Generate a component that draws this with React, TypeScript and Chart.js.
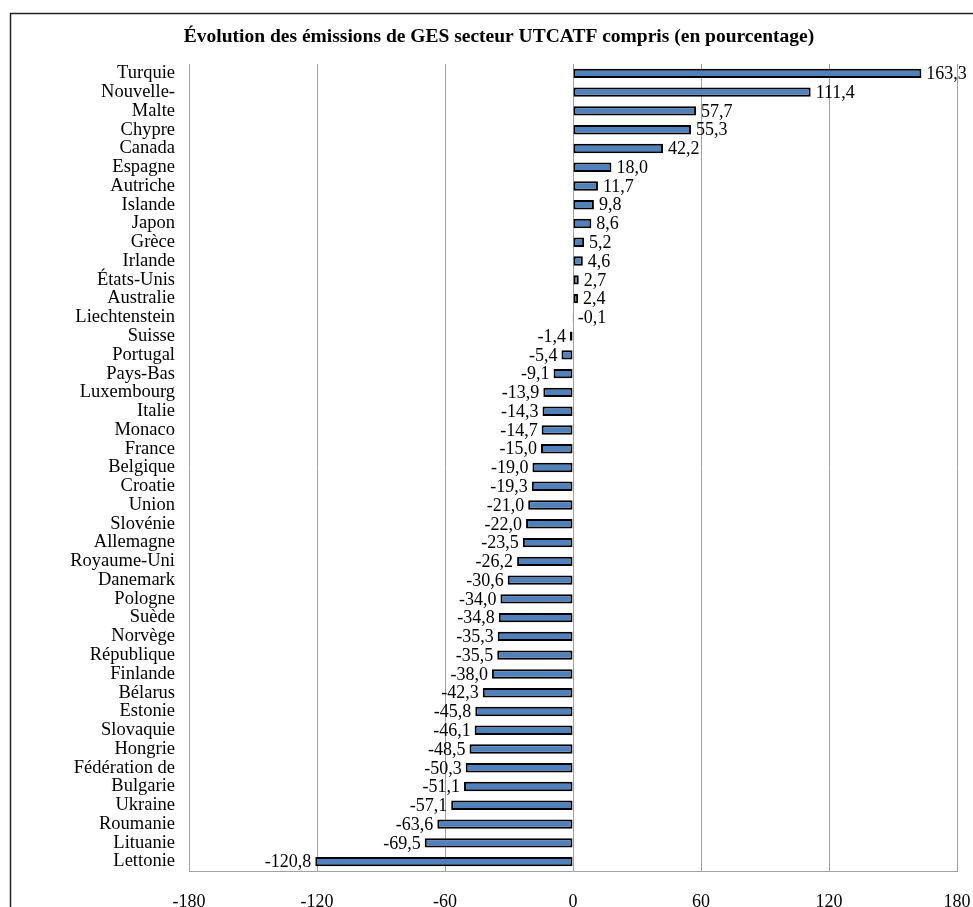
import React, { useEffect, useRef } from "react";
import { Chart, registerables } from "chart.js";

Chart.register(...registerables);

const TITLE = "Évolution des émissions de GES secteur UTCATF compris (en pourcentage)";

const countries = [
  "Turquie", "Nouvelle-", "Malte", "Chypre", "Canada", "Espagne", "Autriche", "Islande",
  "Japon", "Grèce", "Irlande", "États-Unis", "Australie", "Liechtenstein", "Suisse",
  "Portugal", "Pays-Bas", "Luxembourg", "Italie", "Monaco", "France", "Belgique", "Croatie",
  "Union", "Slovénie", "Allemagne", "Royaume-Uni", "Danemark", "Pologne", "Suède", "Norvège",
  "République", "Finlande", "Bélarus", "Estonie", "Slovaquie", "Hongrie", "Fédération de",
  "Bulgarie", "Ukraine", "Roumanie", "Lituanie", "Lettonie",
];

const changes = [
  163.3, 111.4, 57.7, 55.3, 42.2, 18.0, 11.7, 9.8, 8.6, 5.2, 4.6, 2.7, 2.4, -0.1, -1.4,
  -5.4, -9.1, -13.9, -14.3, -14.7, -15.0, -19.0, -19.3, -21.0, -22.0, -23.5, -26.2, -30.6,
  -34.0, -34.8, -35.3, -35.5, -38.0, -42.3, -45.8, -46.1, -48.5, -50.3, -51.1, -57.1,
  -63.6, -69.5, -120.8,
];

const X_MIN = -180;
const X_MAX = 180;
const X_STEP = 60;

const FONT = "'Liberation Serif', 'Times New Roman', serif";

const fmt = (v: number) => v.toFixed(1).replace(".", ",");

const decorPlugin = {
  id: "decor",
  beforeDraw(chart: any) {
    const ctx = chart.ctx;
    ctx.save();
    ctx.fillStyle = "#ffffff";
    ctx.fillRect(0, 0, chart.width, chart.height);
    ctx.restore();
  },
  afterDraw(chart: any) {
    const ctx = chart.ctx;
    ctx.save();
    // frame
    ctx.strokeStyle = "#222222";
    ctx.lineWidth = 1.5;
    ctx.strokeRect(10.5, 13.5, 1200, 1200);
    // title
    ctx.fillStyle = "#000000";
    ctx.font = `bold 19.5px ${FONT}`;
    ctx.textAlign = "center";
    ctx.textBaseline = "alphabetic";
    ctx.fillText(TITLE, 499, 42);
    // data labels
    const meta = chart.getDatasetMeta(0);
    ctx.font = `18px ${FONT}`;
    ctx.textBaseline = "middle";
    meta.data.forEach((bar: any, i: number) => {
      const v = changes[i];
      const text = fmt(v);
      if (v > -1) {
        ctx.textAlign = "left";
        ctx.fillText(text, Math.max(bar.x, bar.base) + 5, bar.y + 1);
      } else {
        ctx.textAlign = "right";
        ctx.fillText(text, bar.x - 4, bar.y + 1);
      }
    });
    ctx.restore();
  },
};

export default function App() {
  const ref = useRef<HTMLCanvasElement | null>(null);

  useEffect(() => {
    if (!ref.current) return;
    const chart = new Chart(ref.current, {
      type: "bar",
      data: {
        labels: countries,
        datasets: [
          {
            data: changes,
            backgroundColor: "#4F81BD",
            borderColor: "#000000",
            borderWidth: 2,
            borderSkipped: false,
            categoryPercentage: 1,
            barPercentage: 0.5,
          },
        ],
      },
      options: {
        indexAxis: "y",
        animation: false,
        responsive: true,
        maintainAspectRatio: false,
        devicePixelRatio: 1,
        layout: { padding: { left: 10, right: 16, top: 64, bottom: 0 } },
        plugins: {
          legend: { display: false },
          title: { display: false },
          tooltip: { enabled: false },
        },
        scales: {
          x: {
            min: X_MIN,
            max: X_MAX,
            ticks: {
              stepSize: X_STEP,
              color: "#000000",
              font: { family: FONT, size: 18 },
              padding: 20,
              maxRotation: 0,
              callback: (v: any) => String(v),
            },
            grid: { color: "#a0a0a0", lineWidth: 1, drawTicks: false },
            border: { display: true, color: "#a0a0a0", width: 1 },
            afterFit: (s: any) => {
              s.height = 36;
              s.paddingLeft = 0;
              s.paddingRight = 0;
            },
          },
          y: {
            ticks: {
              color: "#000000",
              font: { family: FONT, size: 18.5 },
              padding: 14,
              autoSkip: false,
            },
            grid: { display: false, drawTicks: false },
            border: { display: false },
            afterFit: (s: any) => {
              s.width = 179;
              s.paddingTop = 0;
              s.paddingBottom = 0;
            },
          },
        },
      },
      plugins: [decorPlugin],
    });
    return () => chart.destroy();
  }, []);

  return (
    <div style={{ position: "absolute", left: 0, top: 0, width: 973, height: 907 }}>
      <canvas ref={ref} style={{ width: "100%", height: "100%" }} />
    </div>
  );
}
